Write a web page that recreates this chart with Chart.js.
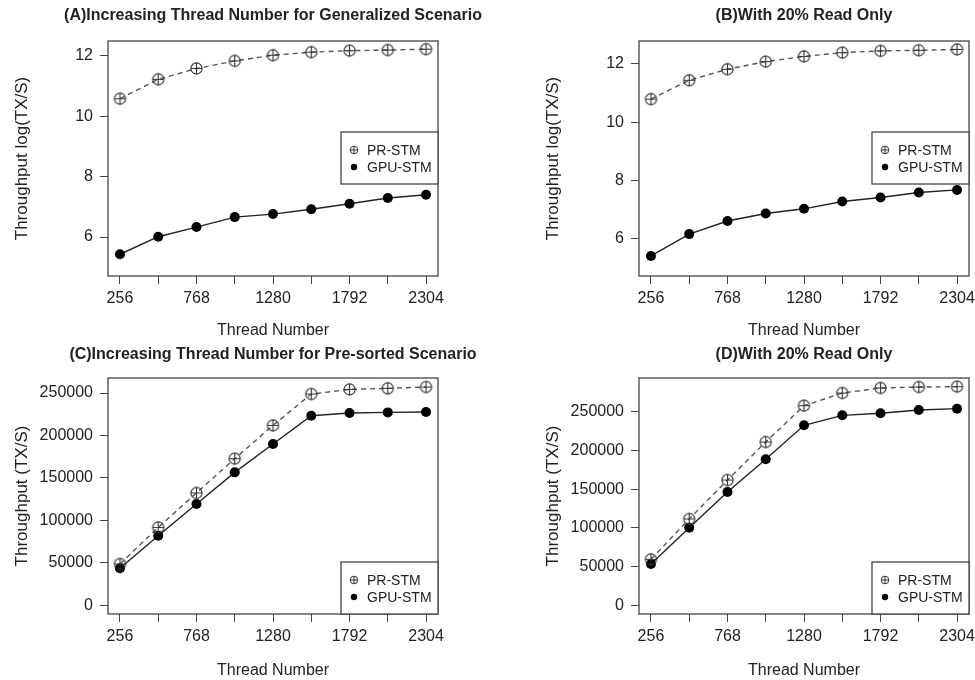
<!DOCTYPE html>
<html lang="en">
<head>
  <meta charset="UTF-8">
  <title>PR-STM vs GPU-STM</title>
  <script src="https://cdn.jsdelivr.net/npm/chart.js"></script>
  <style>
    body { margin: 0; background: #fff; overflow: hidden; }
    .wrap { position: relative; width: 975px; height: 680px; overflow: hidden; }
    canvas { position: absolute; }
  </style>
</head>
<body>
<div class="wrap">
  <canvas id="chartA" width="546" height="340" style="left:0;top:0"></canvas>
  <canvas id="chartC" width="546" height="340" style="left:0;top:340px"></canvas>
  <canvas id="chartB" width="488" height="340" style="left:487px;top:0"></canvas>
  <canvas id="chartD" width="488" height="340" style="left:487px;top:340px"></canvas>
</div>

<script>
  // data
  const threads = [256, 512, 768, 1024, 1280, 1536, 1792, 2048, 2304];
  const xTickLabels = ["256", "768", "1280", "1792", "2304"];
  const seriesNames = ["PR-STM", "GPU-STM"];

  const prA  = [10.58, 11.22, 11.58, 11.83, 12.02, 12.12, 12.17, 12.19, 12.22];
  const gpuA = [5.43, 6.01, 6.33, 6.66, 6.76, 6.92, 7.10, 7.29, 7.40];

  const prB  = [10.79, 11.44, 11.82, 12.08, 12.26, 12.39, 12.45, 12.47, 12.50];
  const gpuB = [5.40, 6.15, 6.60, 6.86, 7.02, 7.27, 7.41, 7.58, 7.67];

  const prC  = [48700, 91800, 132300, 172700, 211900, 248800, 254300, 255500, 257100];
  const gpuC = [43600, 82000, 119300, 156600, 190000, 223300, 226500, 227200, 227600];

  const prD  = [59400, 111500, 161800, 210800, 257800, 274100, 280600, 281800, 282300];
  const gpuD = [53400, 100300, 146300, 188500, 232400, 245300, 247900, 252200, 253900];

  const logTicks = [6, 8, 10, 12];
  const txTicks = [0, 50000, 100000, 150000, 200000, 250000];

  const FONT = "'Liberation Sans', Arial, Helvetica, sans-serif";
  const INK = "#222";
  const FRAME = "#444";

  // circle-plus marker
  function plusCircle(r, lw) {
    const c = document.createElement("canvas");
    const s = Math.ceil(2 * r + lw + 2);
    c.width = s; c.height = s;
    const g = c.getContext("2d");
    const m = s / 2;
    g.strokeStyle = "#333";
    g.lineWidth = lw;
    g.beginPath();
    g.arc(m, m, r, 0, Math.PI * 2);
    g.moveTo(m - r, m); g.lineTo(m + r, m);
    g.moveTo(m, m - r); g.lineTo(m, m + r);
    g.stroke();
    return c;
  }
  const prMarker = plusCircle(5.6, 1.1);

  const frameBox = {
    id: "frameBox",
    afterDatasetsDraw(chart) {
      const a = chart.chartArea, ctx = chart.ctx;
      ctx.save();
      ctx.strokeStyle = FRAME;
      ctx.lineWidth = 1.3;
      ctx.strokeRect(a.left, a.top, a.right - a.left, a.bottom - a.top);
      ctx.restore();
    }
  };

  const boxLegend = {
    id: "boxLegend",
    afterDraw(chart, args, opts) {
      const a = chart.chartArea, ctx = chart.ctx;
      const w = 97, h = 52;
      const left = a.right - w;
      const top = opts.atBottom ? a.bottom - h : a.top + opts.offset;
      ctx.save();
      ctx.fillStyle = "#fff";
      ctx.fillRect(left, top, w, h);
      ctx.strokeStyle = FRAME;
      ctx.lineWidth = 1.3;
      ctx.strokeRect(left, top, w, h);
      ctx.font = "14px " + FONT;
      ctx.textBaseline = "middle";
      const rows = [top + 18, top + 35];
      chart.data.datasets.forEach((ds, i) => {
        const cx = left + 13, cy = rows[i];
        if (i === 0) {
          ctx.strokeStyle = "#333";
          ctx.lineWidth = 1;
          ctx.beginPath();
          ctx.arc(cx, cy, 3.8, 0, Math.PI * 2);
          ctx.moveTo(cx - 3.8, cy); ctx.lineTo(cx + 3.8, cy);
          ctx.moveTo(cx, cy - 3.8); ctx.lineTo(cx, cy + 3.8);
          ctx.stroke();
        } else {
          ctx.fillStyle = "#000";
          ctx.beginPath();
          ctx.arc(cx, cy, 3.2, 0, Math.PI * 2);
          ctx.fill();
        }
        ctx.fillStyle = INK;
        ctx.fillText(ds.label, left + 26, cy + 1);
      });
      ctx.restore();
    }
  };

  function makeChart(id, cfg) {
    new Chart(document.getElementById(id), {
      type: "line",
      data: {
        datasets: [
          {
            label: seriesNames[0],
            data: threads.map((t, i) => ({ x: t, y: cfg.pr[i] })),
            borderColor: "#555",
            borderWidth: 1.4,
            borderDash: [5, 4],
            pointStyle: prMarker,
            tension: 0
          },
          {
            label: seriesNames[1],
            data: threads.map((t, i) => ({ x: t, y: cfg.gpu[i] })),
            borderColor: "#222",
            borderWidth: 1.4,
            pointStyle: "circle",
            pointRadius: 5,
            pointBackgroundColor: "#000",
            pointBorderColor: "#000",
            pointBorderWidth: 0,
            tension: 0
          }
        ]
      },
      options: {
        responsive: false,
        animation: false,
        layout: { padding: { left: 0, right: cfg.padRight, top: 0, bottom: 0 } },
        plugins: {
          legend: { display: false },
          tooltip: { enabled: false },
          title: {
            display: true,
            text: cfg.title,
            fullSize: cfg.wideTitle,
            color: INK,
            font: { family: FONT, size: 16, weight: "bold" },
            padding: { top: cfg.titleTop, bottom: cfg.titleBottom }
          },
          boxLegend: { atBottom: cfg.legendBottom, offset: 91 }
        },
        scales: {
          x: {
            type: "linear",
            min: 176,
            max: 2384,
            afterBuildTicks: s => { s.ticks = threads.map(v => ({ value: v })); },
            afterFit: s => {
              s.height = cfg.xHeight;
              s.paddingLeft = 0;
              s.paddingRight = 0;
            },
            ticks: {
              autoSkip: false,
              maxRotation: 0,
              padding: 5,
              color: INK,
              font: { family: FONT, size: 16 },
              callback: v => xTickLabels.includes(String(v)) ? String(v) : ""
            },
            grid: { drawOnChartArea: false, drawTicks: true, tickLength: 8, color: FRAME },
            border: { display: false },
            title: {
              display: true,
              text: "Thread Number",
              color: INK,
              font: { family: FONT, size: 16 },
              padding: { top: 0, bottom: 0 }
            }
          },
          y: {
            min: cfg.yMin,
            max: cfg.yMax,
            afterBuildTicks: s => { s.ticks = cfg.yTicks.map(v => ({ value: v })); },
            afterFit: s => { s.width = cfg.yWidth; },
            ticks: {
              padding: 7,
              color: INK,
              font: { family: FONT, size: 16 },
              callback: v => String(v)
            },
            grid: { drawOnChartArea: false, drawTicks: true, tickLength: 8, color: FRAME },
            border: { display: false },
            title: {
              display: true,
              text: cfg.yTitle,
              color: INK,
              font: { family: FONT, size: 17 },
              padding: { top: cfg.yTitlePad, bottom: 0 }
            }
          },
          // empty right-hand strip so a full-width title centres over the plot
          pad: {
            type: "linear",
            position: "right",
            display: cfg.wideTitle,
            min: 0,
            max: 1,
            afterFit: s => { s.width = cfg.wideTitle ? cfg.yWidth : 0; },
            ticks: { display: false },
            grid: { display: false },
            border: { display: false }
          }
        }
      },
      plugins: [frameBox, boxLegend]
    });
  }

  makeChart("chartA", {
    title: "(A)Increasing Thread Number for Generalized Scenario",
    yTitle: "Throughput log(TX/S)",
    pr: prA, gpu: gpuA, yTicks: logTicks, yMin: 4.71, yMax: 12.49,
    yWidth: 108, padRight: 0, wideTitle: true, yTitlePad: 11.8,
    titleTop: 6.4, titleBottom: 15.4, xHeight: 64, legendBottom: false
  });
  makeChart("chartB", {
    title: "(B)With 20% Read Only",
    yTitle: "Throughput log(TX/S)",
    pr: prB, gpu: gpuB, yTicks: logTicks, yMin: 4.71, yMax: 12.79,
    yWidth: 152, padRight: 6, wideTitle: false, yTitlePad: 55.8,
    titleTop: 6.4, titleBottom: 15.4, xHeight: 64, legendBottom: false
  });
  makeChart("chartC", {
    title: "(C)Increasing Thread Number for Pre-sorted Scenario",
    yTitle: "Throughput (TX/S)",
    pr: prC, gpu: gpuC, yTicks: txTicks, yMin: -10200, yMax: 267700,
    yWidth: 108, padRight: 0, wideTitle: true, yTitlePad: 11.8,
    titleTop: 5.4, titleBottom: 13.4, xHeight: 66, legendBottom: true
  });
  makeChart("chartD", {
    title: "(D)With 20% Read Only",
    yTitle: "Throughput (TX/S)",
    pr: prD, gpu: gpuD, yTicks: txTicks, yMin: -11200, yMax: 293500,
    yWidth: 152, padRight: 6, wideTitle: false, yTitlePad: 55.8,
    titleTop: 5.4, titleBottom: 13.4, xHeight: 66, legendBottom: true
  });
</script>
</body>
</html>
